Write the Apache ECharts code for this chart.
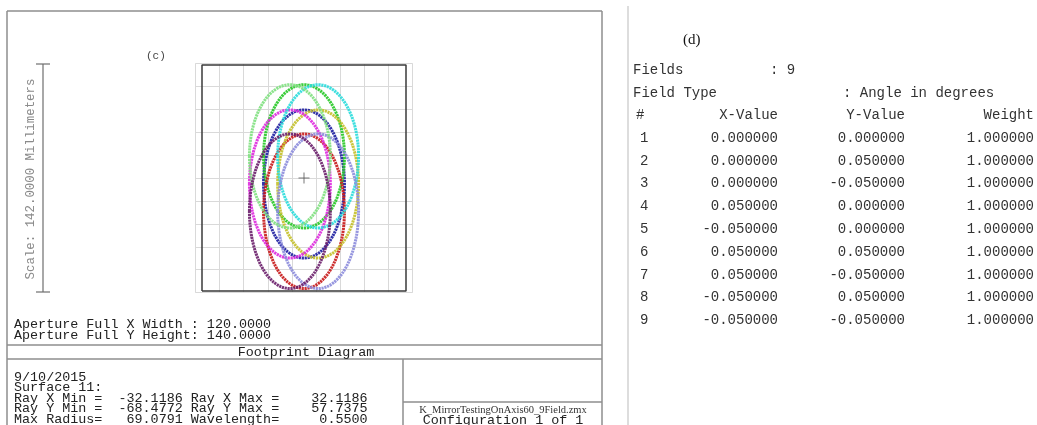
<!DOCTYPE html>
<html>
<head>
<meta charset="utf-8">
<title>Footprint Diagram</title>
<script src="https://cdn.jsdelivr.net/npm/echarts@6/dist/echarts.min.js"></script>
<style>
  html, body { margin: 0; padding: 0; background: #ffffff; }
  #chart { width: 1037px; height: 425px; }
</style>
</head>
<body>
<div id="chart"></div>
<script>
// field table (d)
const fieldNumbers = [1, 2, 3, 4, 5, 6, 7, 8, 9];
const fieldX = [0, 0, 0, 0.05, -0.05, 0.05, 0.05, -0.05, -0.05];
const fieldY = [0, 0.05, -0.05, 0, 0, 0.05, -0.05, 0.05, -0.05];
const fieldWeight = [1, 1, 1, 1, 1, 1, 1, 1, 1];

// footprint of each field on surface 11 (mm)
const footCentreX = [0, 0, 0, 8.3, -8.3, 8.3, 8.3, -8.3, -8.3];
const footCentreY = [-3.7, 13.4, -20.6, -3.7, -3.7, 13.4, -20.6, 13.4, -20.6];
const footSemiX = [23.8, 23.8, 23.8, 23.8, 23.8, 23.8, 23.8, 23.8, 23.8];
const footSemiY = [45.9, 44.4, 47.9, 45.9, 45.9, 44.4, 47.9, 44.4, 47.9];
const fieldColors = ["#1c1ca0", "#26c826", "#c81818", "#c4c02a", "#de2ade", "#2adcdc", "#8c8cdc", "#80e080", "#6a1e6a"];

// aperture and plot scale (mm)
const apertureSize = [120, 140];
const plotScale = 142;
const gridStep = plotScale / 10;

// text blocks
const apertureLines = ["Aperture Full X Width : 120.0000", "Aperture Full Y Height: 140.0000"];
const infoLines = [
  "9/10/2015",
  "Surface 11:",
  "Ray X Min =  -32.1186 Ray X Max =    32.1186",
  "Ray Y Min =  -68.4772 Ray Y Max =    57.7375",
  "Max Radius=   69.0791 Wavelength=     0.5500"
];

const MONO = '"Liberation Mono", "DejaVu Sans Mono", monospace';
const FRAME = "#8e8e8e";
const TEXT = "#222222";

function txt(text, x, y, opts = {}) {
  return {
    type: "text",
    x: x,
    y: y,
    rotation: opts.rotation || 0,
    silent: true,
    style: {
      text: text,
      x: 0,
      y: 0,
      font: opts.font || "13.4px " + MONO,
      fill: opts.color || TEXT,
      textAlign: opts.align || "left",
      align: opts.align || "left",
      textVerticalAlign: "middle",
      verticalAlign: "middle"
    }
  };
}

function seg(x1, y1, x2, y2, color, width) {
  return {
    type: "line",
    silent: true,
    shape: { x1: x1, y1: y1, x2: x2, y2: y2 },
    style: { stroke: color || FRAME, lineWidth: width || 1.5 }
  };
}

function buildGraphics() {
  const g = [];

  // left panel frame
  g.push(seg(7, 11, 602, 11));
  g.push(seg(7, 11, 7, 425));
  g.push(seg(602, 11, 602, 425));
  g.push(seg(7, 345, 602, 345));
  g.push(seg(7, 359, 602, 359));
  g.push(seg(403, 359, 403, 425));
  g.push(seg(403, 402, 602, 402));
  // right panel separator
  g.push(seg(628, 6, 628, 425, "#d2d2d2", 1.5));

  // scale bar
  g.push(seg(43, 64, 43, 292, "#6e6e6e", 1.2));
  g.push(seg(36, 64, 50, 64, "#6e6e6e", 1.2));
  g.push(seg(36, 292, 50, 292, "#6e6e6e", 1.2));
  g.push(txt("Scale: " + plotScale.toFixed(4) + " Millimeters", 31, 179, {
    rotation: Math.PI / 2, align: "center", color: "#8a8a8a", font: "12.4px " + MONO
  }));

  g.push(txt("(c)", 146, 56, { font: "11px " + MONO, color: "#444" }));

  apertureLines.forEach((line, i) => g.push(txt(line, 14, 324 + i * 11)));
  g.push(txt("Footprint Diagram", 306, 352, { align: "center" }));
  infoLines.forEach((line, i) => g.push(txt(line, 14, 377 + i * 10.6)));

  g.push(txt("K_MirrorTestingOnAxis60_9Field.zmx", 503, 410, {
    align: "center", font: '10.5px "Liberation Serif", serif', color: "#333"
  }));
  g.push(txt("Configuration 1 of 1", 503, 420, { align: "center" }));

  // field table (d)
  const tfont = "14px " + MONO;
  const tcol = "#333333";
  g.push(txt("(d)", 683, 40, { font: '15px "Liberation Serif", serif', color: "#111" }));
  g.push(txt("Fields", 633, 70, { font: tfont, color: tcol }));
  g.push(txt(": " + fieldNumbers.length, 770, 70, { font: tfont, color: tcol }));
  g.push(txt("Field Type", 633, 93, { font: tfont, color: tcol }));
  g.push(txt(": Angle in degrees", 843, 93, { font: tfont, color: tcol }));
  g.push(txt("#", 636, 115, { font: tfont, color: tcol }));
  g.push(txt("X-Value", 778, 115, { font: tfont, color: tcol, align: "right" }));
  g.push(txt("Y-Value", 905, 115, { font: tfont, color: tcol, align: "right" }));
  g.push(txt("Weight", 1034, 115, { font: tfont, color: tcol, align: "right" }));
  fieldNumbers.forEach((n, i) => {
    const y = 138 + i * 22.8;
    g.push(txt(String(n), 640, y, { font: tfont, color: tcol }));
    g.push(txt(fieldX[i].toFixed(6), 778, y, { font: tfont, color: tcol, align: "right" }));
    g.push(txt(fieldY[i].toFixed(6), 905, y, { font: tfont, color: tcol, align: "right" }));
    g.push(txt(fieldWeight[i].toFixed(6), 1034, y, { font: tfont, color: tcol, align: "right" }));
  });

  return g;
}

const halfW = apertureSize[0] / 2;
const halfH = apertureSize[1] / 2;
const gridHalfX = gridStep * 4.5;
const gridHalfY = gridStep * 5;

const apertureBox = [[-halfW, -halfH], [halfW, -halfH], [halfW, halfH], [-halfW, halfH], [-halfW, -halfH]];
const footprints = fieldNumbers.map((n, i) => [footCentreX[i], footCentreY[i], footSemiX[i], footSemiY[i], i]);

const chart = echarts.init(document.getElementById("chart"), null, { renderer: "canvas" });

chart.setOption({
  animation: false,
  backgroundColor: "#ffffff",
  grid: {
    left: 304 - gridHalfX * 1.7,
    top: 178 - gridHalfY * 1.614,
    width: gridHalfX * 2 * 1.7,
    height: gridHalfY * 2 * 1.614,
    containLabel: false
  },
  xAxis: [
    {
      type: "value",
      min: -gridHalfX,
      max: gridHalfX,
      axisLine: { show: false },
      axisTick: { show: false },
      axisLabel: { show: false },
      splitLine: { show: false }
    },
    {
      // grid lines sit half a step off centre, so count them from the left edge
      type: "value",
      min: 0,
      max: gridHalfX * 2,
      interval: gridStep,
      axisLine: { show: false },
      axisTick: { show: false },
      axisLabel: { show: false },
      splitLine: { show: true, lineStyle: { color: "#d9d9d9", width: 1 } }
    }
  ],
  yAxis: {
    type: "value",
    min: -gridHalfY,
    max: gridHalfY,
    interval: gridStep,
    axisLine: { show: false },
    axisTick: { show: false },
    axisLabel: { show: false },
    splitLine: { show: true, lineStyle: { color: "#d9d9d9", width: 1 } }
  },
  series: [
    {
      type: "line",
      data: apertureBox,
      symbol: "none",
      silent: true,
      lineStyle: { color: "#3a3a3a", width: 1.5 },
      z: 3
    },
    {
      type: "custom",
      data: footprints,
      silent: true,
      z: 4,
      renderItem(params, api) {
        const c = api.coord([api.value(0), api.value(1)]);
        const s = api.size([api.value(2), api.value(3)]);
        return {
          type: "ellipse",
          shape: { cx: c[0], cy: c[1], rx: s[0], ry: s[1] },
          style: {
            fill: "none",
            stroke: fieldColors[api.value(4)],
            lineWidth: 3,
            lineDash: [2.2, 0.7],
            opacity: 0.9
          }
        };
      }
    },
    {
      type: "scatter",
      data: [[0, 0]],
      symbol: "path://M0,5L10,5M5,0L5,10",
      symbolSize: 11,
      silent: true,
      itemStyle: { color: "rgba(0,0,0,0)", borderColor: "#555", borderWidth: 1 },
      z: 5
    }
  ],
  graphic: buildGraphics()
});
</script>
</body>
</html>
